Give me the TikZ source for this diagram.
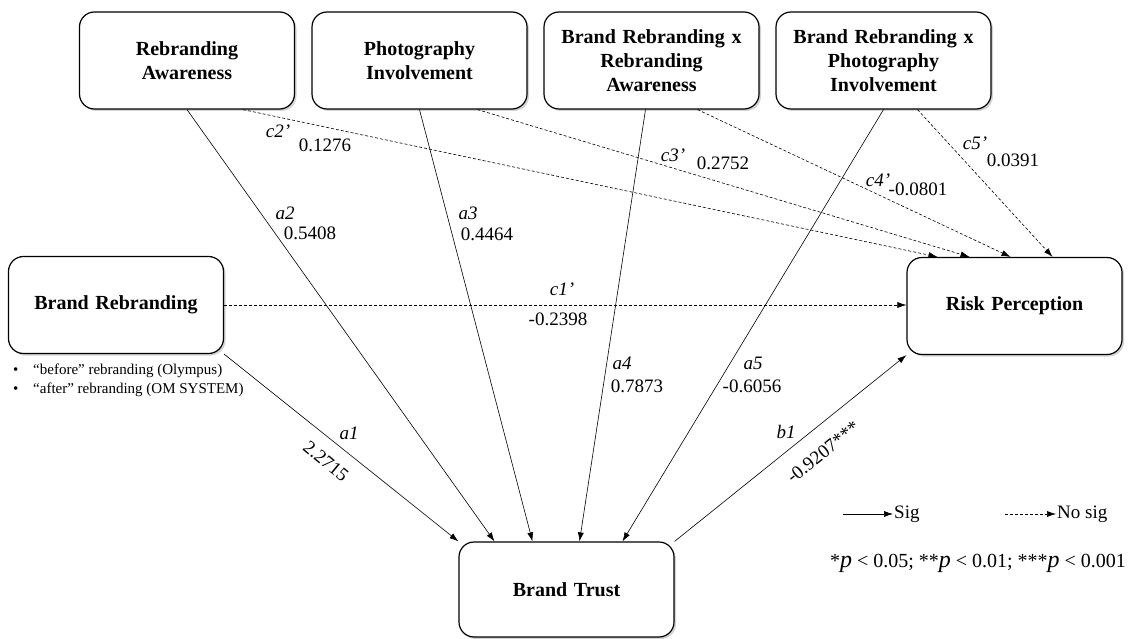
\documentclass[tikz,border=0pt]{standalone}
\usepackage{fontspec}
\setmainfont{Liberation Serif}
\usetikzlibrary{arrows.meta,shadows}

\begin{document}
\begin{tikzpicture}[x=1pt,y=-1pt,
	varbox/.style={draw,line width=1.2pt,rounded corners=15pt,fill=white,minimum width=215pt,minimum height=97pt,text width=205pt,align=center,font=\fontsize{20}{24}\selectfont\bfseries,drop shadow={shadow xshift=2pt,shadow yshift=-2pt,opacity=0.35}},
	sigarrow/.style={line width=0.6pt,-{Latex[length=9pt,width=6pt]}},
	nosigarrow/.style={sigarrow,dash pattern=on 3pt off 2pt},
	lbl/.style={font=\fontsize{19}{22}\selectfont\itshape,inner sep=1pt},
	val/.style={font=\fontsize{19}{22}\selectfont,inner sep=1pt}]
		\useasboundingbox (0,0) rectangle (1138,639);
		\node[varbox] (RA) at (187,60.5) {Rebranding\\Awareness};
		\node[varbox] (PI) at (419.5,60.5) {Photography\\Involvement};
		\node[varbox] (BRxRA) at (651.5,60.5) {Brand Rebranding x\\Rebranding\\Awareness};
		\node[varbox] (BRxPI) at (883.5,60.5) {Brand Rebranding x\\Photography\\Involvement};
		\node[varbox] (BR) at (116,305) {Brand Rebranding};
		\node[varbox] (RP) at (1014.5,306) {Risk Perception};
		\node[varbox,minimum height=95pt] (BT) at (566.5,589.5) {Brand Trust};
		\node[anchor=west,align=left,inner sep=0pt,font=\fontsize{15}{19}\selectfont] (notes) at (10,380) {\makebox[23pt][l]{\hspace{3pt}\textbullet}“before” rebranding (Olympus)\\\makebox[23pt][l]{\hspace{3pt}\textbullet}“after” rebranding (OM SYSTEM)};
		\draw[sigarrow] (BR.south east)--(BT.north west);
		\draw[sigarrow] (RA.south)--([xshift=-72pt]BT.north);
		\draw[sigarrow] (PI.south)--([xshift=-34pt]BT.north);
		\draw[sigarrow] ([xshift=-6pt]BRxRA.south)--([xshift=13pt]BT.north);
		\draw[sigarrow] (BRxPI.south)--([xshift=56pt]BT.north);
		\draw[sigarrow] (BT.north east)--(RP.south west);
		\draw[nosigarrow] (BR.east)--(BR.east -| RP.west);
		\draw[nosigarrow] ([xshift=56pt]RA.south)--([xshift=-77pt]RP.north);
		\draw[nosigarrow] ([xshift=58pt]PI.south)--([xshift=-45pt]RP.north);
		\draw[nosigarrow] ([xshift=46pt]BRxRA.south)--([xshift=-4pt]RP.north);
		\draw[nosigarrow] ([xshift=34pt]BRxPI.south)--([xshift=38pt]RP.north);
		\node[lbl] (la1) at (349,433) {a1};
		\node[val,rotate=-39.7] (va1) at (326,461) {2.2715};
		\node[lbl] (la2) at (285,213) {a2};
		\node[val] (va2) at (310,233) {0.5408};
		\node[lbl] (la3) at (468,213) {a3};
		\node[val] (va3) at (487,234) {0.4464};
		\node[lbl] (la4) at (622,363) {a4};
		\node[val] (va4) at (637,386) {0.7873};
		\node[lbl] (la5) at (753,363) {a5};
		\node[val] (va5) at (752,386) {-0.6056};
		\node[lbl] (lb1) at (786,432) {b1};
		\node[val,rotate=38.6] (vb1) at (823,452) {-0.9207***};
		\node[lbl] (lc1) at (562,289) {c1’};
		\node[val] (vc1) at (558,319) {-0.2398};
		\node[lbl] (lc2) at (278,131) {c2’};
		\node[val] (vc2) at (325,145) {0.1276};
		\node[lbl] (lc3) at (673,155) {c3’};
		\node[val] (vc3) at (723,163) {0.2752};
		\node[lbl] (lc4) at (878,180) {c4’};
		\node[val] (vc4) at (918,189) {-0.0801};
		\node[lbl] (lc5) at (975,143) {c5’};
		\node[val] (vc5) at (1013,160) {0.0391};
		\coordinate (sigstart) at (843,514);
		\node[val,anchor=west] (sigtxt) at (893,514) {Sig};
		\draw[sigarrow] (sigstart)--(sigtxt.west);
		\coordinate (nosigstart) at (1005,514);
		\node[val,anchor=west] (nosigtxt) at (1056,514) {No sig};
		\draw[nosigarrow] (nosigstart)--(nosigtxt.west);
		\node[val,font=\fontsize{20}{24}\selectfont] (plegend) at (978,563) {*{\fontsize{24}{24}\selectfont\itshape p} < 0.05; **{\fontsize{24}{24}\selectfont\itshape p} < 0.01; ***{\fontsize{24}{24}\selectfont\itshape p} < 0.001};
	\end{tikzpicture}
\end{document}
